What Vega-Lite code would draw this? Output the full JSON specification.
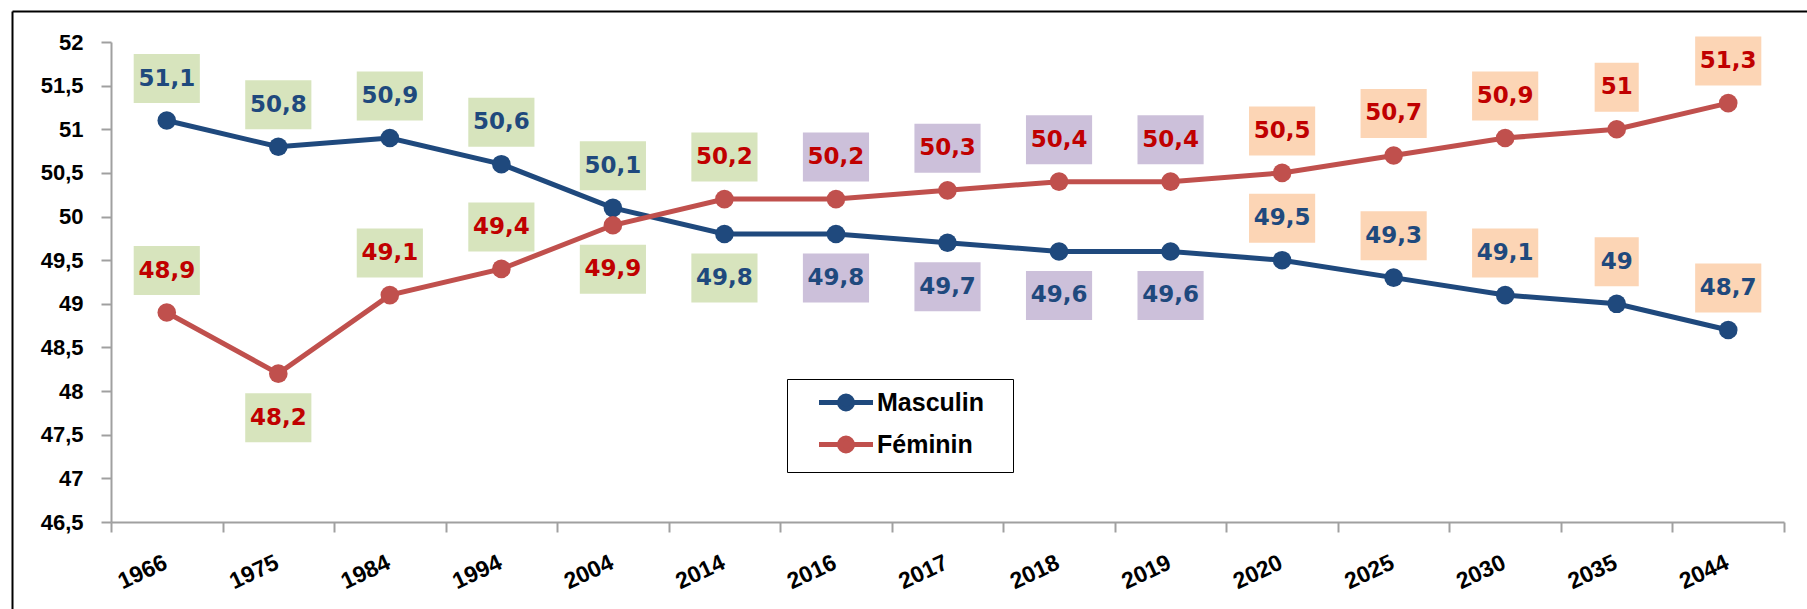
{
  "$schema": "https://vega.github.io/schema/vega-lite/v6.json",
  "width": 1673,
  "height": 480,
  "autosize": {"type": "none"},
  "padding": {"left": 111, "top": 42, "right": 23, "bottom": 87},
  "background": "white",
  "config": {
    "view": {"stroke": null},
    "locale": {"number": {"decimal": ",", "thousands": "\u00a0", "grouping": [3], "currency": ["", "\u00a0€"]}}
  },
  "data": {
    "values": [
      {"annee": 1966, "sexe": "Masculin", "valeur": 51.1, "periode": "recensement"},
      {"annee": 1975, "sexe": "Masculin", "valeur": 50.8, "periode": "recensement"},
      {"annee": 1984, "sexe": "Masculin", "valeur": 50.9, "periode": "recensement"},
      {"annee": 1994, "sexe": "Masculin", "valeur": 50.6, "periode": "recensement"},
      {"annee": 2004, "sexe": "Masculin", "valeur": 50.1, "periode": "recensement"},
      {"annee": 2014, "sexe": "Masculin", "valeur": 49.8, "periode": "recensement"},
      {"annee": 2016, "sexe": "Masculin", "valeur": 49.8, "periode": "estimation"},
      {"annee": 2017, "sexe": "Masculin", "valeur": 49.7, "periode": "estimation"},
      {"annee": 2018, "sexe": "Masculin", "valeur": 49.6, "periode": "estimation"},
      {"annee": 2019, "sexe": "Masculin", "valeur": 49.6, "periode": "estimation"},
      {"annee": 2020, "sexe": "Masculin", "valeur": 49.5, "periode": "projection"},
      {"annee": 2025, "sexe": "Masculin", "valeur": 49.3, "periode": "projection"},
      {"annee": 2030, "sexe": "Masculin", "valeur": 49.1, "periode": "projection"},
      {"annee": 2035, "sexe": "Masculin", "valeur": 49.0, "periode": "projection"},
      {"annee": 2044, "sexe": "Masculin", "valeur": 48.7, "periode": "projection"},
      {"annee": 1966, "sexe": "Féminin", "valeur": 48.9, "periode": "recensement"},
      {"annee": 1975, "sexe": "Féminin", "valeur": 48.2, "periode": "recensement"},
      {"annee": 1984, "sexe": "Féminin", "valeur": 49.1, "periode": "recensement"},
      {"annee": 1994, "sexe": "Féminin", "valeur": 49.4, "periode": "recensement"},
      {"annee": 2004, "sexe": "Féminin", "valeur": 49.9, "periode": "recensement"},
      {"annee": 2014, "sexe": "Féminin", "valeur": 50.2, "periode": "recensement"},
      {"annee": 2016, "sexe": "Féminin", "valeur": 50.2, "periode": "estimation"},
      {"annee": 2017, "sexe": "Féminin", "valeur": 50.3, "periode": "estimation"},
      {"annee": 2018, "sexe": "Féminin", "valeur": 50.4, "periode": "estimation"},
      {"annee": 2019, "sexe": "Féminin", "valeur": 50.4, "periode": "estimation"},
      {"annee": 2020, "sexe": "Féminin", "valeur": 50.5, "periode": "projection"},
      {"annee": 2025, "sexe": "Féminin", "valeur": 50.7, "periode": "projection"},
      {"annee": 2030, "sexe": "Féminin", "valeur": 50.9, "periode": "projection"},
      {"annee": 2035, "sexe": "Féminin", "valeur": 51.0, "periode": "projection"},
      {"annee": 2044, "sexe": "Féminin", "valeur": 51.3, "periode": "projection"}
    ]
  },
  "layer": [
    {
      "encoding": {
        "x": {
          "field": "annee", "type": "ordinal",
          "scale": {"type": "band", "paddingInner": 0, "paddingOuter": 0},
          "axis": {
            "orient": "bottom", "title": null, "grid": false,
            "labelAngle": -25, "labelAlign": "right", "labelBaseline": "top",
            "labelFont": "Liberation Sans", "labelFontSize": 23, "labelFontWeight": "bold", "labelColor": "#000000",
            "labelPadding": 19, "labelOffset": -6, "tickBand": "extent", "tickSize": 10, "tickColor": "#a0a0a0", "tickWidth": 2,
            "domainColor": "#a0a0a0", "domainWidth": 2
          }
        },
        "y": {
          "field": "valeur", "type": "quantitative",
          "scale": {"domain": [46.5, 52], "nice": false, "zero": false},
          "axis": {
            "orient": "left", "title": null, "grid": false,
            "values": [46.5, 47, 47.5, 48, 48.5, 49, 49.5, 50, 50.5, 51, 51.5, 52],
            "format": ".1~f",
            "labelFont": "Liberation Sans", "labelFontSize": 22, "labelFontWeight": "bold", "labelColor": "#000000",
            "labelPadding": 18, "tickSize": 10, "tickColor": "#a0a0a0", "tickWidth": 2,
            "domainColor": "#a0a0a0", "domainWidth": 2
          }
        }
      },
      "layer": [
        {
          "mark": {"type": "line", "strokeWidth": 5},
          "encoding": {
            "color": {
              "field": "sexe", "type": "nominal",
              "scale": {"domain": ["Masculin", "Féminin"], "range": ["#1f497d", "#c0504d"]},
              "legend": {
                "title": null, "orient": "none", "legendX": 676, "legendY": 337, "direction": "vertical",
                "padding": 11, "strokeColor": "#000000", "fillColor": "#ffffff",
                "labelFont": "Liberation Sans", "labelFontSize": 25, "labelFontWeight": "bold", "labelColor": "#000000",
                "labelOffset": 54, "rowPadding": 9,
                "labelExpr": "datum.label + '\u2800'",
                "symbolType": "M0.85,0L6.25,0M4.2,0A0.65,0.65,0,1,1,2.9,0A0.65,0.65,0,1,1,4.2,0Z",
                "symbolSize": 400, "symbolStrokeWidth": 5,
                "encode": {"symbols": {"update": {
                  "fill": {"scale": "color", "field": "value"},
                  "stroke": {"scale": "color", "field": "value"},
                  "opacity": {"value": 1}
                }}}
              }
            }
          }
        },
        {
          "mark": {"type": "circle", "size": 346, "opacity": 1},
          "encoding": {"color": {"field": "sexe", "type": "nominal"}}
        },
        {
          "transform": [{"filter": "!((datum.sexe === 'Masculin' && datum.annee >= 2014 && datum.annee <= 2019) || (datum.sexe === 'Féminin' && (datum.annee === 1975 || datum.annee === 2004)))"}],
          "mark": {"type": "point", "filled": true, "size": 2401, "opacity": 1, "strokeWidth": 0},
          "encoding": {
            "yOffset": {"value": -42},
            "fill": {"field": "periode", "type": "nominal", "scale": {"domain": ["recensement", "estimation", "projection"], "range": ["#d7e4bd", "#ccc0da", "#fcd5b5"]}, "legend": null},
            "shape": {"condition": {"test": "datum.valeur % 1 === 0", "value": "M-0.9,-1H0.9V1H-0.9Z"}, "value": "M-1.35,-1H1.35V1H-1.35Z"}
          }
        },
        {
          "transform": [{"filter": "(datum.sexe === 'Masculin' && datum.annee >= 2014 && datum.annee <= 2019) || (datum.sexe === 'Féminin' && (datum.annee === 1975 || datum.annee === 2004))"}],
          "mark": {"type": "point", "filled": true, "size": 2401, "opacity": 1, "strokeWidth": 0},
          "encoding": {
            "yOffset": {"value": 44},
            "fill": {"field": "periode", "type": "nominal", "legend": null},
            "shape": {"condition": {"test": "datum.valeur % 1 === 0", "value": "M-0.9,-1H0.9V1H-0.9Z"}, "value": "M-1.35,-1H1.35V1H-1.35Z"}
          }
        },
        {
          "transform": [{"filter": "!((datum.sexe === 'Masculin' && datum.annee >= 2014 && datum.annee <= 2019) || (datum.sexe === 'Féminin' && (datum.annee === 1975 || datum.annee === 2004)))"}],
          "mark": {"type": "text", "font": "DejaVu Sans", "fontSize": 23, "fontWeight": "bold", "baseline": "middle", "align": "center"},
          "encoding": {
            "yOffset": {"value": -42},
            "text": {"field": "valeur", "type": "quantitative", "format": ".1~f"},
            "color": {"condition": {"test": "datum.sexe === 'Masculin'", "value": "#1f497d"}, "value": "#c00000"}
          }
        },
        {
          "transform": [{"filter": "(datum.sexe === 'Masculin' && datum.annee >= 2014 && datum.annee <= 2019) || (datum.sexe === 'Féminin' && (datum.annee === 1975 || datum.annee === 2004))"}],
          "mark": {"type": "text", "font": "DejaVu Sans", "fontSize": 23, "fontWeight": "bold", "baseline": "middle", "align": "center"},
          "encoding": {
            "yOffset": {"value": 44},
            "text": {"field": "valeur", "type": "quantitative", "format": ".1~f"},
            "color": {"condition": {"test": "datum.sexe === 'Masculin'", "value": "#1f497d"}, "value": "#c00000"}
          }
        }
      ]
    },
    {
      "mark": {"type": "point", "opacity": 0},
      "encoding": {
        "x": {
          "field": "valeur", "type": "quantitative",
          "scale": {"domain": [0, 1], "range": [-99, 1696], "nice": false, "zero": false},
          "axis": {"orient": "top", "offset": 31, "title": null, "grid": false, "ticks": false, "labels": false, "domainColor": "#000000", "domainWidth": 2}
        },
        "y": {
          "field": "valeur", "type": "quantitative",
          "scale": {"domain": [0, 1], "range": [567, -31], "nice": false, "zero": false},
          "axis": {"orient": "left", "offset": 99, "title": null, "grid": false, "ticks": false, "labels": false, "domainColor": "#000000", "domainWidth": 2}
        }
      }
    }
  ],
  "resolve": {"scale": {"x": "independent", "y": "independent"}, "axis": {"x": "independent", "y": "independent"}}
}
